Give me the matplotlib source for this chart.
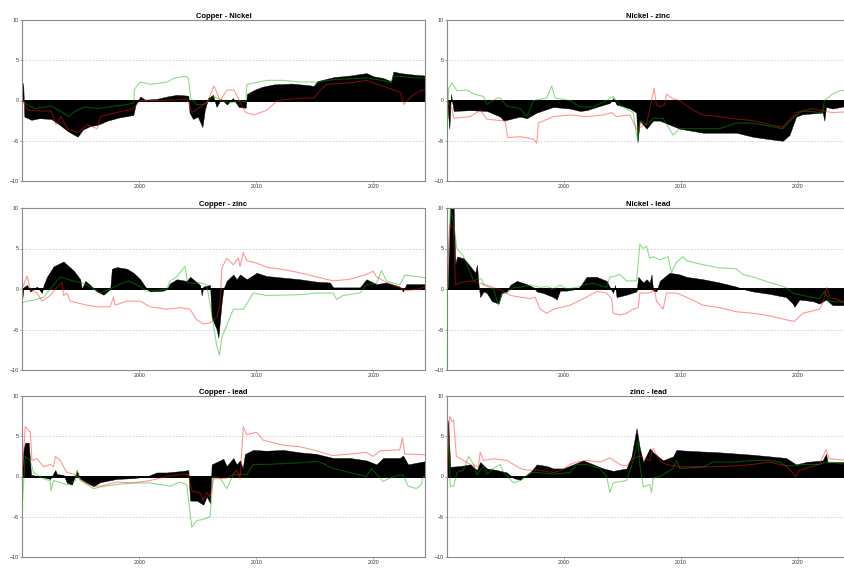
import matplotlib
matplotlib.use('Agg')
import matplotlib.pyplot as plt
import numpy as np

plt.rcParams.update({
    'font.family': ['Liberation Sans Narrow', 'Liberation Sans', 'DejaVu Sans'],
    'font.size': 4,
})

# ── Data: (year, value) knots per pair ────────────────────────────
# black = spread, green / red = the two component series

cn_bar_t = [1990.0, 1990.1, 1990.2, 1990.8, 1991.5, 1992.5, 1993.2, 1993.9, 1994.5, 1994.75, 1995.2, 1995.8,
            1996.5, 1997.3, 1998.3, 1999.5, 1999.7, 2000.1, 2000.5, 2001.5, 2002.4, 2003.2, 2004.2, 2004.3,
            2004.6, 2005.0, 2005.4, 2005.6, 2005.9, 2006.3, 2006.6, 2007.0, 2007.5, 2008.0, 2008.5, 2009.1,
            2009.2, 2009.8, 2010.5, 2011.5, 2013.0, 2014.5, 2014.9, 2015.2, 2016.6, 2018.0, 2019.4, 2020.0,
            2020.8, 2021.5, 2021.7, 2022.3, 2023.5, 2024.4]
cn_bar_v = [0.0, 2.2, -2.0, -2.4, -2.2, -2.3, -3.0, -3.8, -4.3, -4.5, -3.6, -3.2,
            -3.0, -2.5, -2.1, -1.8, -0.5, 0.5, 0.1, 0.2, 0.5, 0.7, 0.6, -1.5,
            -2.3, -2.0, -3.3, -1.2, 0.3, 0.7, -0.8, 0.2, -0.5, 0.3, -0.8, -0.9,
            0.8, 1.3, 1.7, 2.0, 2.1, 1.9, 1.8, 2.4, 2.9, 3.1, 3.4, 3.0,
            2.8, 2.4, 3.6, 3.4, 3.2, 3.1]
cn_grn_t = [1990.0, 1990.5, 1991.1, 1992.0, 1992.5, 1993.5, 1994.0, 1994.3, 1994.7, 1995.3, 1996.5, 1997.8,
            1999.0, 1999.55, 1999.6, 2000.1, 2001.0, 2002.4, 2003.0, 2004.0, 2004.2, 2004.4, 2004.9, 2005.5,
            2006.4, 2007.0, 2007.8, 2008.6, 2009.1, 2009.2, 2010.9, 2012.3, 2013.8, 2015.2, 2016.6, 2019.4,
            2020.8, 2021.5, 2021.7, 2022.3, 2023.7, 2024.4]
cn_grn_v = [0.0, -0.6, -1.0, -0.8, -0.7, -1.5, -2.0, -1.6, -1.2, -0.8, -1.0, -0.7,
            -0.5, -0.3, 1.4, 2.3, 2.0, 2.3, 2.8, 3.0, 2.8, 0.3, -0.5, -0.5,
            0.5, 0.0, -0.3, 0.0, -0.2, 2.0, 2.5, 2.5, 2.3, 2.3, 2.6, 2.8,
            2.5, 2.2, 3.0, 3.0, 2.8, 2.8]
cn_red_t = [1990.0, 1990.5, 1991.6, 1992.5, 1992.9, 1993.3, 1993.9, 1994.75, 1995.6, 1996.4, 1996.7, 1998.1,
            1999.5, 2000.1, 2002.4, 2004.1, 2004.5, 2005.2, 2005.8, 2006.4, 2006.9, 2007.5, 2008.1, 2008.7,
            2009.1, 2009.8, 2010.9, 2011.8, 2013.8, 2014.9, 2015.5, 2016.0, 2018.0, 2019.4, 2020.8, 2022.3,
            2022.6, 2023.2, 2024.0, 2024.4]
cn_red_v = [0.0, -1.2, -1.3, -1.3, -3.0, -2.0, -3.5, -4.0, -3.0, -3.5, -2.0, -1.5,
            -1.0, 0.0, 0.0, 0.2, -1.5, -0.8, -0.2, 1.8, 0.0, 1.3, 1.3, -0.5,
            -1.5, -1.8, -1.2, 0.0, 0.3, 0.3, 1.3, 2.0, 2.2, 2.5, 1.8, 1.0,
            -0.5, 0.5, 1.2, 1.3]

nz_bar_t = [1990.0, 1990.2, 1990.34, 1990.57, 1991.99, 1993.41, 1994.55, 1994.84, 1996.26, 1996.83, 1997.68,
            1999.1, 2000.53, 2001.38, 2001.95, 2002.8, 2003.94, 2004.22, 2004.51, 2005.65, 2006.2, 2006.3,
            2006.5, 2007.07, 2007.64, 2008.21, 2009.06, 2009.91, 2011.91, 2014.75, 2016.17, 2017.6, 2018.73,
            2019.3, 2019.87, 2020.44, 2022.15, 2022.29, 2022.43, 2023.0, 2024.4]
nz_bar_v = [0.0, -3.5, 0.8, -1.3, -1.2, -1.3, -2.0, -2.5, -2.0, -2.2, -1.5,
            -0.8, -1.0, -1.3, -1.2, -0.8, -0.3, 0.3, -0.5, -1.0, -1.5, -5.2,
            -2.5, -3.5, -2.5, -2.5, -3.0, -3.5, -4.0, -4.0, -4.5, -4.8, -5.0,
            -4.3, -2.0, -1.7, -1.5, -2.5, -0.8, -1.0, -0.6]
nz_grn_t = [1990.0, 1990.14, 1990.43, 1990.85, 1991.71, 1992.28, 1993.13, 1993.41, 1994.27, 1994.55, 1995.12,
            1996.26, 1996.83, 1997.4, 1998.53, 1998.96, 1999.25, 2000.53, 2001.38, 2002.52, 2003.66, 2004.22,
            2004.79, 2005.93, 2006.3, 2006.5, 2007.07, 2007.64, 2008.49, 2009.35, 2009.91, 2011.05, 2013.33,
            2014.75, 2016.17, 2017.6, 2018.73, 2019.87, 2020.44, 2022.15, 2022.29, 2023.0, 2023.57, 2024.4]
nz_grn_v = [-4.5, 1.5, 2.2, 1.2, 1.3, 0.8, 0.5, -0.5, 0.3, 0.3, -0.7,
            -1.0, -2.0, 0.0, 0.3, 1.8, 0.3, 0.0, -0.8, -0.8, 0.0, 0.5,
            -0.5, -1.5, -5.0, -2.5, -3.0, -2.2, -2.2, -4.3, -3.5, -3.5, -3.5,
            -2.8, -2.8, -3.2, -3.5, -1.8, -1.3, -1.5, 0.0, 0.8, 1.2, 1.3]
nz_red_t = [1990.0, 1990.43, 1990.57, 1991.99, 1992.84, 1993.41, 1994.55, 1994.98, 1995.18, 1996.26, 1997.4,
            1997.68, 1997.82, 1999.1, 2000.53, 2001.95, 2003.37, 2004.08, 2004.51, 2005.65, 2006.22, 2007.07,
            2007.72, 2007.92, 2008.21, 2008.63, 2008.78, 2009.35, 2009.91, 2011.05, 2011.91, 2013.33, 2014.75,
            2016.17, 2017.6, 2018.73, 2019.87, 2021.3, 2022.15, 2023.0, 2024.4]
nz_red_v = [0.0, -1.0, -2.2, -2.0, -1.2, -2.3, -2.5, -2.5, -4.6, -4.5, -4.8,
            -5.3, -2.8, -2.0, -1.8, -2.0, -1.8, -1.5, -2.0, -1.8, -3.5, -3.0,
            1.5, -0.5, -0.8, -0.5, 0.8, 0.2, 0.0, -1.2, -1.8, -2.0, -2.3,
            -2.5, -3.0, -3.3, -1.5, -1.0, -1.3, -1.5, -1.4]

cz_bar_t = [1990.0, 1990.14, 1990.43, 1990.71, 1991.28, 1991.7, 1991.85, 1992.13, 1992.7, 1993.27, 1993.55,
            1993.84, 1994.4, 1994.97, 1995.11, 1995.4, 1995.82, 1996.39, 1996.96, 1997.53, 1997.67, 1998.1,
            1998.95, 1999.52, 2000.09, 2000.65, 2000.94, 2002.07, 2002.36, 2002.64, 2003.21, 2004.06, 2004.35,
            2005.2, 2005.34, 2005.48, 2006.05, 2006.19, 2006.62, 2006.76, 2007.05, 2007.19, 2007.47, 2008.04,
            2008.32, 2008.61, 2009.18, 2010.03, 2010.88, 2012.3, 2013.72, 2015.14, 2016.28, 2016.56, 2018.84,
            2019.4, 2020.26, 2021.11, 2022.24, 2022.53, 2022.81, 2024.4]
cz_bar_v = [-1.5, 0.2, 0.5, -0.3, 0.3, -0.5, 0.5, 1.5, 2.8, 3.2, 3.4,
            3.0, 2.3, 1.2, 0.0, 1.0, 0.5, -0.3, -0.7, 0.0, 2.5, 2.7,
            2.5, 2.0, 1.2, 0.0, -0.3, -0.2, 0.0, 0.7, 1.2, 1.0, 1.5,
            0.5, -0.8, 0.3, 0.5, -3.5, -5.0, -6.0, -1.5, 0.0, 1.0, 1.8,
            1.2, 1.8, 1.2, 2.0, 1.6, 1.4, 1.2, 0.9, 0.8, 0.2, 0.2,
            1.2, 0.6, 0.8, 0.3, -0.3, 0.6, 0.6]
cz_grn_t = [1990.0, 1990.43, 1990.99, 1991.85, 1992.41, 1992.98, 1993.27, 1993.84, 1994.97, 1995.54, 1996.68,
            1997.53, 1998.38, 1999.09, 1999.52, 2000.09, 2000.65, 2002.36, 2002.64, 2003.21, 2003.92, 2004.12,
            2004.63, 2005.2, 2005.77, 2006.19, 2006.62, 2006.85, 2007.05, 2007.47, 2008.04, 2008.89, 2009.74,
            2010.88, 2013.72, 2015.14, 2016.56, 2016.85, 2017.41, 2018.84, 2019.4, 2020.26, 2020.68, 2021.11,
            2022.24, 2022.67, 2023.38, 2024.4]
cz_grn_v = [-1.7, -1.5, -1.4, -1.0, 0.0, 1.0, 1.5, 1.2, 0.8, 0.5, -0.5,
            0.0, 0.6, 1.0, 0.7, 0.3, -0.3, 0.0, 1.0, 1.5, 2.8, 0.8,
            0.7, 0.8, 0.5, -3.0, -7.0, -8.2, -6.0, -4.5, -2.5, -2.5, -0.5,
            -0.8, -0.7, -0.5, -0.5, -1.3, -0.8, -0.5, 0.5, 0.7, 2.3, 1.0,
            0.5, 1.7, 1.6, 1.4]
cz_red_t = [1990.0, 1990.43, 1990.71, 1991.28, 1991.7, 1992.41, 1992.98, 1993.41, 1993.55, 1993.84, 1994.12,
            1994.97, 1995.54, 1996.39, 1997.53, 1997.81, 1997.95, 1998.95, 2000.09, 2000.94, 2002.36, 2003.49,
            2004.35, 2004.91, 2005.48, 2006.05, 2006.62, 2006.9, 2007.05, 2007.47, 2008.04, 2008.47, 2008.61,
            2008.89, 2009.18, 2010.03, 2010.88, 2012.3, 2013.72, 2015.14, 2016.28, 2016.56, 2017.98, 2019.4,
            2019.97, 2020.26, 2021.11, 2022.24, 2022.81, 2023.95, 2024.4]
cz_red_v = [0.0, 1.6, 0.0, -0.5, -1.5, -0.8, 0.2, 0.8, -0.8, -0.5, -1.5,
            -1.8, -2.0, -2.2, -2.2, -1.0, -2.0, -1.5, -1.5, -2.2, -2.5, -2.3,
            -2.5, -3.8, -4.3, -4.2, -3.5, -2.0, 2.5, 3.8, 3.0, 3.8, 2.8,
            4.5, 3.5, 3.2, 2.7, 2.4, 2.0, 1.5, 1.1, 1.0, 1.2, 1.8,
            2.2, 1.5, 0.8, 0.2, -0.2, 0.0, 0.3]

nl_bar_t = [1990.0, 1990.06, 1990.28, 1990.57, 1990.71, 1990.85, 1991.42, 1991.99, 1992.42, 1992.56, 1992.7,
            1992.84, 1993.13, 1993.41, 1993.84, 1994.41, 1994.69, 1995.12, 1995.41, 1995.97, 1996.83, 1997.4,
            1997.68, 1998.25, 1999.1, 1999.39, 1999.67, 2000.24, 2001.1, 2001.38, 2001.95, 2002.8, 2003.66,
            2003.94, 2004.22, 2004.37, 2004.51, 2005.36, 2006.22, 2006.36, 2006.79, 2007.07, 2007.35, 2007.5,
            2007.64, 2007.92, 2008.21, 2008.78, 2009.06, 2009.91, 2010.48, 2011.91, 2013.33, 2014.75, 2015.32,
            2016.17, 2017.6, 2019.02, 2019.59, 2019.73, 2020.16, 2021.3, 2021.86, 2022.43, 2023.0, 2024.4]
nl_bar_v = [0.0, 0.0, 10.0, 10.0, 3.0, 4.0, 3.8, 2.8, 2.0, 3.0, 0.5,
            -1.0, -0.3, -0.5, -1.5, -1.8, -0.5, -0.3, 0.5, 1.0, 0.6, 0.2,
            -0.3, -0.5, -1.0, -1.3, -0.2, -0.2, 0.0, 0.3, 1.5, 1.5, 1.0,
            0.2, -0.5, 0.5, -1.0, -0.7, -0.3, 1.5, 0.8, 1.2, 0.8, 1.8,
            -0.2, -0.3, 1.0, 1.7, 2.0, 1.8, 1.5, 1.2, 0.8, 0.3, 0.0,
            -0.3, -0.6, -1.0, -1.8, -2.2, -1.3, -1.5, -1.8, -1.3, -2.0, -2.0]
nl_grn_t = [1990.0, 1990.03, 1990.28, 1990.57, 1990.85, 1991.42, 1991.85, 1992.28, 1992.7, 1992.99, 1993.13,
            1993.41, 1993.98, 1994.41, 1994.69, 1995.12, 1995.69, 1996.26, 1997.11, 1997.97, 1998.53, 1999.1,
            1999.67, 2000.24, 2001.1, 2001.66, 2002.52, 2003.66, 2003.94, 2004.22, 2004.79, 2005.36, 2006.22,
            2006.5, 2006.79, 2007.07, 2007.35, 2007.64, 2008.21, 2008.92, 2009.2, 2009.63, 2010.2, 2010.48,
            2011.91, 2013.33, 2014.75, 2015.32, 2016.17, 2017.6, 2019.02, 2019.59, 2020.44, 2021.86, 2022.29,
            2022.72, 2024.4]
nl_grn_v = [-10.0, 0.0, 10.0, 8.0, 5.0, 4.0, 2.5, 1.0, 1.3, 1.2, 0.5,
            0.3, 0.0, -2.0, -0.5, -0.5, 0.2, 0.2, 0.5, 0.2, 0.3, 0.0,
            0.5, 0.0, 0.2, 0.5, 0.7, 0.2, 1.5, 1.5, 1.8, 1.0, 1.0,
            5.5, 5.0, 5.3, 3.8, 4.0, 3.6, 4.0, 2.0, 3.3, 4.0, 3.5,
            3.0, 2.6, 2.5, 1.8, 1.5, 0.8, 0.2, -0.5, -0.8, -1.2, -0.3,
            -1.5, -1.7]
nl_red_t = [1990.0, 1990.23, 1990.57, 1990.71, 1991.14, 1991.99, 1993.41, 1994.27, 1994.84, 1995.41, 1996.26,
            1997.11, 1997.54, 1997.97, 1998.53, 1999.1, 1999.67, 2000.53, 2001.95, 2002.8, 2003.66, 2004.08,
            2004.22, 2004.79, 2005.36, 2005.93, 2006.36, 2006.5, 2007.35, 2007.78, 2007.92, 2008.21, 2008.49,
            2008.78, 2009.63, 2010.48, 2011.91, 2013.33, 2014.75, 2016.17, 2017.6, 2019.02, 2019.73, 2020.44,
            2021.86, 2022.15, 2022.49, 2022.72, 2024.4]
nl_red_v = [0.0, 8.0, 7.5, 0.5, 0.8, 1.0, 0.5, 0.0, -0.3, -0.8, -1.0,
            -1.2, -1.0, -2.5, -3.0, -2.5, -2.3, -2.0, -1.0, -0.3, -0.5, -1.2,
            -3.0, -3.2, -3.0, -2.5, -2.3, -0.5, -0.5, 0.0, -1.5, -2.0, -2.5,
            -0.5, -0.5, -1.0, -2.0, -2.3, -2.8, -3.0, -3.3, -3.8, -4.0, -3.0,
            -2.5, -1.8, 0.2, -1.0, -1.8]

cl_bar_t = [1990.0, 1990.14, 1990.28, 1990.57, 1990.77, 1991.56, 1992.41, 1992.84, 1992.98, 1993.55, 1993.84,
            1994.26, 1994.69, 1994.97, 1995.54, 1996.11, 1996.68, 1998.1, 1999.52, 2000.65, 2001.5, 2002.36,
            2003.78, 2004.2, 2004.35, 2004.91, 2005.48, 2005.77, 2006.05, 2006.19, 2006.62, 2007.19, 2007.47,
            2008.04, 2008.32, 2008.61, 2008.84, 2009.03, 2009.74, 2010.88, 2012.3, 2013.72, 2015.14, 2016.56,
            2017.98, 2019.4, 2020.26, 2020.82, 2022.24, 2022.53, 2022.95, 2024.4]
cl_bar_v = [0.0, 3.5, 4.2, 4.2, 0.2, 0.0, -0.3, 0.8, 0.3, 0.2, -0.8,
            -1.0, 0.7, -0.3, -0.8, -1.2, -0.7, -0.3, -0.2, 0.0, 0.5, 0.5,
            0.7, 0.8, -3.0, -3.0, -3.5, -2.5, -3.3, 1.5, 1.8, 2.2, 1.3,
            2.3, 1.5, 2.0, 1.0, 2.8, 3.3, 3.2, 3.3, 3.0, 2.8, 2.3,
            2.3, 2.0, 1.5, 2.3, 2.3, 2.6, 1.5, 1.9]
cl_grn_t = [1990.0, 1990.28, 1990.71, 1990.99, 1991.85, 1992.41, 1992.47, 1992.7, 1993.84, 1994.55, 1994.69,
            1994.97, 1996.11, 1996.68, 1998.1, 1999.52, 2000.94, 2002.64, 2003.49, 2004.06, 2004.49, 2004.91,
            2005.77, 2006.05, 2006.33, 2006.9, 2007.47, 2008.04, 2008.89, 2009.18, 2009.74, 2010.88, 2013.72,
            2015.14, 2015.71, 2016.56, 2017.98, 2019.4, 2019.83, 2020.82, 2021.68, 2022.53, 2022.95, 2023.66,
            2024.09, 2024.23, 2024.4]
cl_grn_v = [-4.0, 2.5, 2.0, 0.5, -0.3, -0.5, -1.8, -0.5, -1.0, -0.5, 0.8,
            -0.5, -1.5, -1.3, -1.0, -0.8, -0.8, -1.2, -0.7, -1.0, -6.3, -5.5,
            -5.2, -5.0, 0.0, -0.2, -1.5, 0.2, 0.3, 0.2, 1.5, 1.5, 1.7,
            1.9, 1.6, 1.0, 0.5, 0.0, 1.0, -0.6, 0.0, 0.2, -1.2, -1.5,
            -1.0, 0.0, 0.0]
cl_red_t = [1990.0, 1990.28, 1990.71, 1990.85, 1991.28, 1991.85, 1992.41, 1992.7, 1992.84, 1993.27, 1993.55,
            1993.84, 1994.4, 1994.97, 1995.54, 1996.11, 1996.68, 1998.1, 1999.52, 2000.94, 2002.36, 2003.78,
            2004.2, 2004.49, 2005.2, 2005.48, 2005.77, 2006.05, 2006.33, 2007.47, 2008.04, 2008.32, 2008.61,
            2008.89, 2009.18, 2010.03, 2010.6, 2012.3, 2013.72, 2015.14, 2015.99, 2016.56, 2017.98, 2019.4,
            2019.97, 2020.54, 2022.24, 2022.47, 2022.67, 2024.4]
cl_red_v = [0.0, 6.2, 5.5, 2.0, 2.2, 1.2, 1.5, 1.2, 2.5, 2.0, 1.2,
            0.5, 0.3, -0.3, -0.8, -1.2, -1.2, -0.7, -0.8, -0.5, 0.0, 0.3,
            0.2, -1.8, -2.0, -3.0, -2.0, -2.5, -0.3, -0.2, 0.3, 0.8, -0.3,
            6.2, 5.2, 5.5, 4.5, 3.9, 3.7, 3.2, 2.8, 2.6, 2.8, 3.0,
            2.5, 3.2, 3.3, 4.8, 2.8, 2.7]

zl_bar_t = [1990.0, 1990.09, 1990.28, 1991.14, 1991.99, 1992.56, 1992.84, 1993.41, 1994.27, 1995.12, 1995.69,
            1996.26, 1997.11, 1997.68, 1998.53, 1999.1, 1999.96, 2000.81, 2001.66, 2002.52, 2003.37, 2004.22,
            2005.36, 2005.79, 2006.22, 2006.5, 2006.79, 2007.35, 2007.64, 2008.49, 2009.35, 2009.63, 2010.48,
            2013.33, 2016.17, 2017.6, 2019.02, 2019.87, 2020.73, 2022.15, 2022.43, 2022.57, 2024.4]
zl_bar_v = [0.0, 7.0, 1.2, 1.3, 1.5, 0.8, 1.8, 1.0, 0.8, 0.5, -0.2,
            -0.4, 0.5, 1.5, 1.3, 1.0, 1.0, 1.5, 2.0, 1.5, 1.0, 0.7,
            1.0, 2.5, 6.0, 3.5, 1.8, 3.5, 3.0, 2.0, 2.5, 3.3, 3.2,
            3.0, 2.7, 2.5, 2.3, 1.5, 1.8, 2.0, 2.8, 1.8, 1.8]
zl_grn_t = [1990.0, 1990.14, 1990.28, 1990.57, 1990.85, 1991.42, 1991.85, 1992.28, 1992.56, 1992.84, 1993.13,
            1993.41, 1993.98, 1994.55, 1994.84, 1995.69, 1996.26, 1997.11, 1997.68, 1999.1, 2000.53, 2001.1,
            2001.95, 2003.09, 2003.66, 2003.94, 2004.22, 2005.36, 2005.93, 2006.36, 2006.5, 2006.79, 2007.35,
            2007.5, 2007.64, 2008.21, 2008.78, 2009.35, 2009.63, 2009.91, 2011.91, 2012.76, 2014.75, 2016.17,
            2017.6, 2018.45, 2019.02, 2020.44, 2021.86, 2022.43, 2024.4]
zl_grn_v = [2.0, 4.5, -1.2, -1.2, 0.5, 0.8, 2.5, 1.5, 0.2, 0.8, 1.3,
            0.3, 1.0, 1.5, 0.5, -0.8, -0.5, 0.5, 0.5, 0.3, 0.5, 1.5,
            1.5, 1.0, 0.0, -2.0, -0.8, -0.5, 2.0, 4.5, 1.5, -1.3, -1.0,
            -2.0, -0.2, 0.0, 0.5, 1.0, 2.0, 1.0, 1.2, 1.8, 1.8, 2.0,
            2.0, 1.8, 1.3, 1.5, 1.5, 1.8, 1.5]
zl_red_t = [1990.0, 1990.23, 1990.43, 1990.57, 1990.8, 1991.42, 1991.99, 1992.7, 1992.84, 1993.13, 1993.98,
            1995.12, 1995.69, 1996.26, 1996.83, 1997.68, 1999.1, 1999.67, 2000.53, 2001.1, 2001.95, 2003.09,
            2003.94, 2004.79, 2005.36, 2005.93, 2006.5, 2007.35, 2007.64, 2008.21, 2008.78, 2009.91, 2011.91,
            2014.75, 2016.17, 2017.6, 2019.02, 2019.87, 2020.16, 2021.86, 2022.43, 2022.72, 2024.4]
zl_red_v = [0.0, 7.5, 6.8, 7.0, 2.5, 2.0, 1.5, 1.2, 3.0, 2.0, 2.2,
            2.0, 1.5, 1.0, 0.8, 0.8, 0.5, 0.7, 1.5, 1.8, 2.0, 1.8,
            2.3, 1.5, 1.3, 2.3, 2.5, 2.0, 3.5, 2.0, 1.5, 1.2, 1.2,
            1.3, 1.5, 1.8, 1.3, 0.0, 0.8, 1.5, 3.3, 2.2, 2.0]

titles = ['Copper - Nickel', 'Nickel - zinc', 'Copper - zinc', 'Nickel - lead', 'Copper - lead', 'zinc - lead']
panels = [
    (cn_bar_t, cn_bar_v, cn_grn_t, cn_grn_v, cn_red_t, cn_red_v),
    (nz_bar_t, nz_bar_v, nz_grn_t, nz_grn_v, nz_red_t, nz_red_v),
    (cz_bar_t, cz_bar_v, cz_grn_t, cz_grn_v, cz_red_t, cz_red_v),
    (nl_bar_t, nl_bar_v, nl_grn_t, nl_grn_v, nl_red_t, nl_red_v),
    (cl_bar_t, cl_bar_v, cl_grn_t, cl_grn_v, cl_red_t, cl_red_v),
    (zl_bar_t, zl_bar_v, zl_grn_t, zl_grn_v, zl_red_t, zl_red_v),
]

# ── Layout (figure fractions) ─────────────────────────────────────
W, H = 844, 569
col_x = [(22, 425), (447, 849)]
row_y = [(20, 181), (208, 370), (396, 557)]

fig = plt.figure(figsize=(W / 100, H / 100), dpi=100)

for i, (title, (bt, bv, gt, gv, rt, rv)) in enumerate(zip(titles, panels)):
    x0, x1 = col_x[i % 2]
    y0, y1 = row_y[i // 2]
    ax = fig.add_axes([x0 / W, 1 - y1 / H, (x1 - x0) / W, (y1 - y0) / H])

    for y in (-5, 5):
        ax.axhline(y, color='#cccccc', lw=0.6, ls=(0, (2, 2)), zorder=0)
    ax.fill_between(bt, 0, bv, color='black', lw=0.3, edgecolor='black', zorder=1)
    ax.axhline(0, color='black', lw=1.4, zorder=2)
    ax.plot(gt, gv, color='#00b000', alpha=0.45, lw=0.8, zorder=3)
    ax.plot(rt, rv, color='#ff1a1a', alpha=0.45, lw=0.8, zorder=3)

    ax.set_xlim(1990.0, 2024.4)
    ax.set_ylim(-10, 10)
    ax.set_xticks([2000, 2010, 2020])
    ax.set_yticks([-10, -5, 0, 5, 10])
    ax.tick_params(length=1.5, width=0.4, pad=1, labelsize=3.8, colors='#555555', labelcolor='#333333')
    for s in ax.spines.values():
        s.set_color('#8a8a8a')
        s.set_linewidth(0.8)
    ax.set_title(title, fontsize=5.5, fontweight='bold', pad=1.5)

fig.savefig('out.png', dpi=100)
